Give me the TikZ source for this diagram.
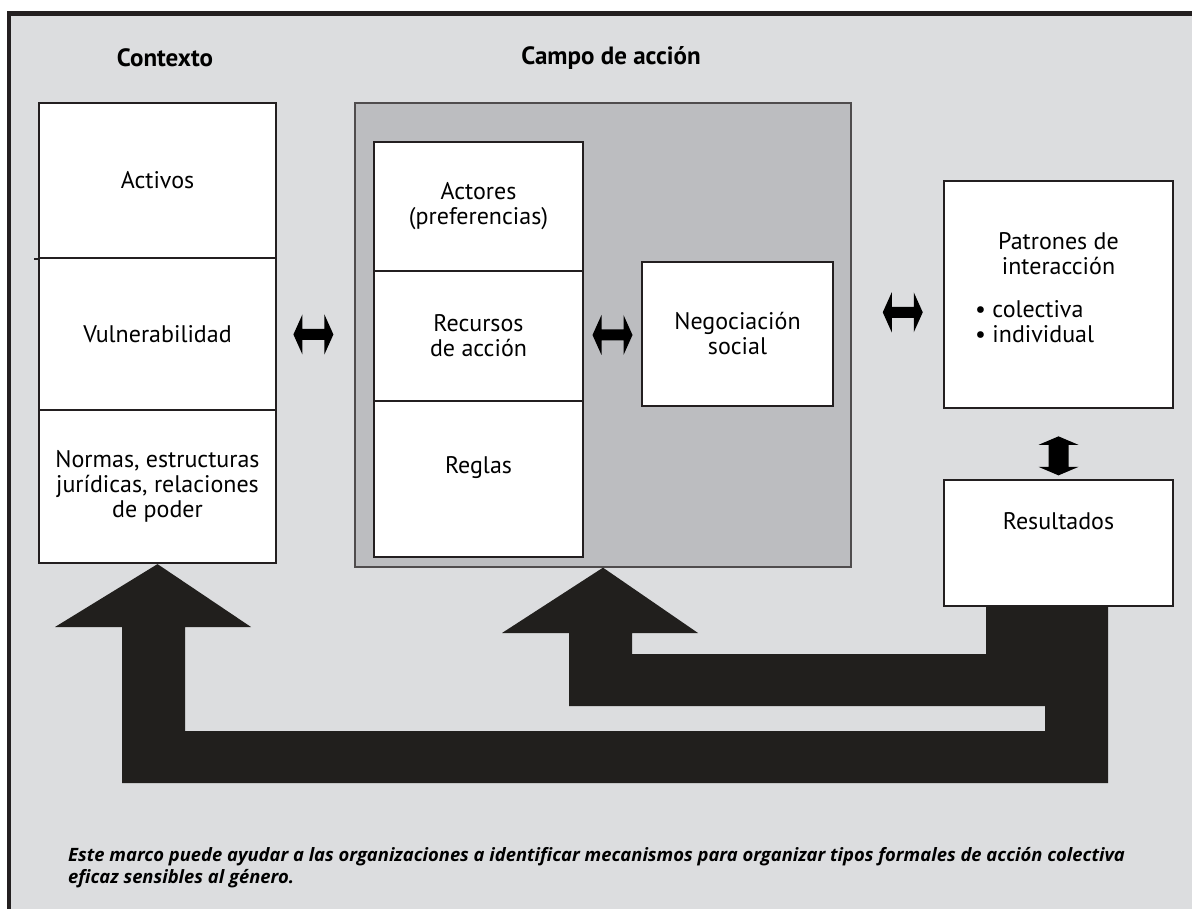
\documentclass[tikz,border=0pt]{standalone}
\usepackage{fontspec}
\usetikzlibrary{calc}
\setmainfont{PT Sans}
\newfontfamily\notefont{Open Sans}
\definecolor{bg}{RGB}{220,221,223}
\definecolor{campogray}{RGB}{188,189,192}
\definecolor{dk}{RGB}{35,31,32}
\definecolor{arrowblack}{RGB}{33,31,29}
\begin{document}
\begin{tikzpicture}[x=1pt,y=-1pt,
  box/.style={draw=dk,line width=2.2pt,fill=white,inner sep=0pt,align=center,
    font=\fontsize{24}{25}\selectfont},
  campobox/.style={draw=dk!80,line width=1.3pt,fill=campogray,inner sep=0pt},
  txt/.style={inner sep=0pt,align=center,font=\fontsize{24}{25}\selectfont},
  title/.style={inner sep=0pt,font=\fontsize{25}{26}\selectfont\bfseries},
  fat/.style={fill=arrowblack},
  dbl/.style={fill=black}]
\useasboundingbox (0,0) rectangle (1192,909);
% frame
\fill[white] (0,0) rectangle (1192,909);
\fill[bg] (9,13.7) rectangle (1192,909);
\draw[dk,line width=4.5pt] (9,909) -- (9,13.7) -- (1192,13.7);
% titles
\node[title] (tctx) at (165,58) {Contexto};
\node[title] (tcampo) at (611,58) {Campo de acción};
% left column
\node[box,minimum width=237,minimum height=155] (activos) at (157.5,180.5) {Activos};
\node[box,minimum width=237,minimum height=152] (vuln) at (157.5,334) {Vulnerabilidad};
\node[box,minimum width=237,minimum height=153] (normas) at (157.5,486.5) {Normas, estructuras\\jurídicas, relaciones\\de poder};
\draw[dk,line width=2.2pt] (activos.south west) -- ++(-4,0);
% campo de accion
\node[campobox,minimum width=496,minimum height=464] (campo) at (603,335) {};
\node[box,minimum width=209,minimum height=129] (actores) at (478.5,206.5) {Actores\\(preferencias)};
\node[box,minimum width=209,minimum height=130] (recursos) at (478.5,336) {Recursos\\de acción};
\node[box,minimum width=209,minimum height=156] (reglas) at (478.5,479) {};
\node[txt] (reglastxt) at (478.5,468) {Reglas};
\node[box,minimum width=191,minimum height=144] (negoc) at (737.5,334) {Negociación\\social};
% right
\node[box,minimum width=229,minimum height=227] (patrones) at (1058.5,294.5) {};
\node[txt] (patt) at (1058.5,253.5) {Patrones de\\interacción};
\node[txt,align=left,anchor=west] (pattb) at (975,322) {• colectiva\\• individual};
\node[box,minimum width=229,minimum height=126] (result) at (1058.5,543) {};
\node[txt] (resultt) at (1058.5,521) {Resultados};
% double arrows
\coordinate (a1) at ($(vuln.east)!0.47!(campo.west)$);
\coordinate (a2) at ($(recursos.east)!0.5!(negoc.west)$);
\coordinate (a3) at ($(campo.east)!0.56!(patrones.west)$);
\foreach \c in {a1,a2,a3}{
  \fill[dbl,shift={(\c)}] (-20,0) -- (-11,-20) -- (-11,-5.5) -- (11,-5.5) -- (11,-20) -- (20,0)
     -- (11,20) -- (11,5.5) -- (-11,5.5) -- (-11,20) -- cycle;
}
\coordinate (a4) at ($(patrones.south)!0.67!(result.north)$);
\fill[dbl,shift={(a4)}] (0,-19.5) -- (20,-11) -- (10,-11) -- (10,11) -- (20,11) -- (0,19.5)
   -- (-20,11) -- (-10,11) -- (-10,-11) -- (-20,-11) -- cycle;
% feedback arrows
\fill[fat] (986,606) -- (1049,606) -- (1049,706) -- (569,706) -- (569,633) -- (502,633)
  -- (campo.south) -- (698,633) -- (632,633) -- (632,654) -- (986,654) -- cycle;
\fill[fat] (1045,606) -- (1108,606) -- (1108,783) -- (122,783) -- (122,627) -- (55,627)
  -- (normas.south) -- (251,627) -- (185,627) -- (185,731) -- (1045,731) -- cycle;
% footnote
\node[inner sep=0pt,anchor=north west,align=left,font=\fontsize{18.4}{22}\notefont\bfseries\itshape] (note) at (68,847)
  {Este marco puede ayudar a las organizaciones a identificar mecanismos para organizar tipos formales de acción colectiva\\eficaz sensibles al género.};
\end{tikzpicture}
\end{document}
